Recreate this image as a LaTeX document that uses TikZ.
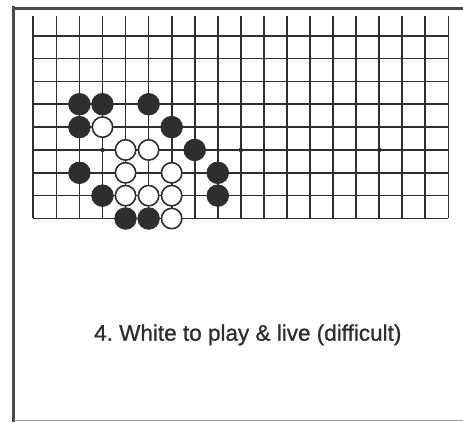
\documentclass[tikz,border=0pt]{standalone}
\usepackage{fontspec}
\setmainfont{Liberation Sans}
\newfontfamily\capfont[FakeBold=1.0]{Liberation Sans}
\definecolor{ink}{HTML}{2E2E2E}
\definecolor{frameink}{HTML}{4A4A4A}
\begin{document}
\begin{tikzpicture}[x=1pt,y=-1pt,
  gridline/.style={draw=ink,line width=1.7pt},
  frameline/.style={draw=frameink,line width=3pt},
  bstone/.style={circle,fill=ink,draw=ink,line width=0.8pt,minimum size=21.6pt,inner sep=0pt},
  wstone/.style={circle,fill=white,draw=ink,line width=1.6pt,minimum size=20.4pt,inner sep=0pt},
  starpt/.style={circle,fill=ink,minimum size=4.5pt,inner sep=0pt},
  caption/.style={font=\capfont\fontsize{22.5}{26}\selectfont\frenchspacing,text=ink,anchor=base,inner sep=0pt}]
\useasboundingbox (0,0) rectangle (463,422);
\fill[white] (0,0) rectangle (463,422);
% frame
\draw[frameline] (13.5,6.5) -- (13.5,422);
\draw[frameline] (12,8.5) -- (463,8.5);
\draw[draw=black!40,line width=1.2pt] (13.5,420.8) -- (463,420.8);
% grid
\pgfmathsetmacro{\dx}{23.06}
\pgfmathsetmacro{\dy}{22.85}
\foreach \i in {0,...,18}{
  \draw[gridline] ({33.3+\dx*\i},16) -- ({33.3+\dx*\i},218.5);
}
\foreach \j in {0,...,8}{
  \draw[gridline] (33.3,{218.5-\dy*\j}) -- (448.4,{218.5-\dy*\j});
}
% star points
\foreach \c/\n in {3/sa,9/sb,15/sc}{
  \node[starpt] (\n) at ({33.3+\dx*\c},{218.5-\dy*3}) {};
}
% black stones
\foreach \c/\r [count=\k] in {2/5,3/5,5/5,2/4,6/4,7/3,2/2,8/2,3/1,8/1,4/0,5/0}{
  \node[bstone] (b\k) at ({33.3+\dx*\c},{218.5-\dy*\r}) {};
}
% white stones
\foreach \c/\r [count=\k] in {3/4,4/3,5/3,4/2,6/2,4/1,5/1,6/1,6/0}{
  \node[wstone] (w\k) at ({33.3+\dx*\c},{218.5-\dy*\r}) {};
}
% caption
\node[caption] (cap) at (247.8,340.7) {4. White to play \& live (difficult)};
\end{tikzpicture}
\end{document}
